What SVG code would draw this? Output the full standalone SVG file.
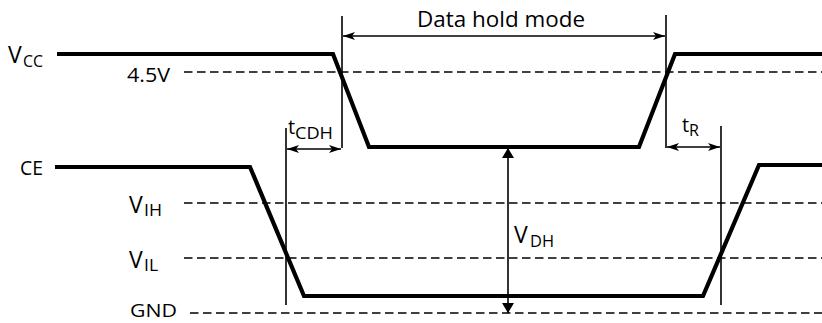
<svg xmlns="http://www.w3.org/2000/svg" width="822" height="323" viewBox="0 0 822 323">
  <style>
    .sig { fill: none; stroke: #000; stroke-width: 4.2; stroke-linejoin: miter; }
    .dash { fill: none; stroke: #000; stroke-width: 1.6; stroke-dasharray: 8.5 4.5; }
    .thin { fill: none; stroke: #000; stroke-width: 1.6; }
    .lbl { font-family: "Open Sans", "Liberation Sans", sans-serif; font-size: 20px; fill: #000; }
    .big { font-size: 23px; }
    .sub { font-family: "Open Sans", "Liberation Sans", sans-serif; font-size: 16px; fill: #000; }
  </style>
  <defs>
    <marker id="ah" viewBox="0 0 12 8" refX="12" refY="4" markerWidth="12" markerHeight="8" markerUnits="userSpaceOnUse" orient="auto-start-reverse">
      <path d="M0,0 L12,4 L0,8 L3,4 z" fill="#000"/>
    </marker>
    <marker id="ahv" viewBox="0 0 10 12" refX="10" refY="6" markerWidth="10" markerHeight="12" markerUnits="userSpaceOnUse" orient="auto-start-reverse">
      <path d="M0,0 L10,6 L0,12 z" fill="#000"/>
    </marker>
  </defs>
  <rect width="822" height="323" fill="#fff"/>

  <g id="levels">
    <line class="dash" x1="184" y1="72" x2="822" y2="72"/>
    <line class="dash" x1="184" y1="203" x2="822" y2="203"/>
    <line class="dash" x1="184" y1="258" x2="822" y2="258"/>
    <line class="dash" x1="190" y1="313" x2="822" y2="313"/>
  </g>

  <g id="guides">
    <line class="thin" x1="342" y1="16" x2="342" y2="148"/>
    <line class="thin" x1="666" y1="15" x2="666" y2="148"/>
    <line class="thin" x1="286" y1="128" x2="286" y2="305"/>
    <line class="thin" x1="721" y1="126" x2="721" y2="305"/>
  </g>

  <g id="vcc-signal">
    <polyline class="sig" points="57,54 333,54 369,147 639,147 675,54 822,54"/>
  </g>
  <g id="ce-signal">
    <polyline class="sig" points="55,167 250,167 304,296 703,296 759,165 822,165"/>
  </g>

  <g id="connectors">
    <line class="thin" x1="343" y1="36" x2="665" y2="36" marker-start="url(#ah)" marker-end="url(#ah)"/>
    <line class="thin" x1="287" y1="149" x2="341" y2="149" marker-start="url(#ah)" marker-end="url(#ah)"/>
    <line class="thin" x1="667" y1="147" x2="720" y2="147" marker-start="url(#ah)" marker-end="url(#ah)"/>
    <line class="thin" x1="508" y1="148" x2="508" y2="313" marker-start="url(#ahv)" marker-end="url(#ahv)"/>
  </g>

  <g id="label-vcc">
    <text class="lbl big" x="8" y="63">V</text>
    <text class="sub" x="23" y="67" textLength="20" lengthAdjust="spacingAndGlyphs">CC</text>
  </g>
  <g id="label-45v">
    <text class="lbl" x="127" y="82" textLength="43" lengthAdjust="spacingAndGlyphs">4.5V</text>
  </g>
  <g id="label-datahold">
    <text class="lbl" x="417" y="27" textLength="168" lengthAdjust="spacingAndGlyphs" style="font-size:21px">Data hold mode</text>
  </g>
  <g id="label-tcdh">
    <text class="lbl" x="288" y="134">t</text>
    <text class="sub" x="295" y="139" textLength="38" lengthAdjust="spacingAndGlyphs">CDH</text>
  </g>
  <g id="label-tr">
    <text class="lbl" x="682" y="132">t</text>
    <text class="sub" x="689" y="136">R</text>
  </g>
  <g id="label-ce">
    <text class="lbl" x="20" y="175" textLength="23" lengthAdjust="spacingAndGlyphs">CE</text>
  </g>
  <g id="label-vih">
    <text class="lbl big" x="129" y="213">V</text>
    <text class="sub" x="144" y="216" textLength="18" lengthAdjust="spacingAndGlyphs">IH</text>
  </g>
  <g id="label-vil">
    <text class="lbl big" x="129" y="268">V</text>
    <text class="sub" x="144" y="271" textLength="14" lengthAdjust="spacingAndGlyphs">IL</text>
  </g>
  <g id="label-gnd">
    <text class="lbl" x="130" y="317" textLength="47" lengthAdjust="spacingAndGlyphs" style="font-size:19px">GND</text>
  </g>
  <g id="label-vdh">
    <text class="lbl big" x="514" y="243">V</text>
    <text class="sub" x="530" y="247" textLength="24" lengthAdjust="spacingAndGlyphs">DH</text>
  </g>
</svg>
